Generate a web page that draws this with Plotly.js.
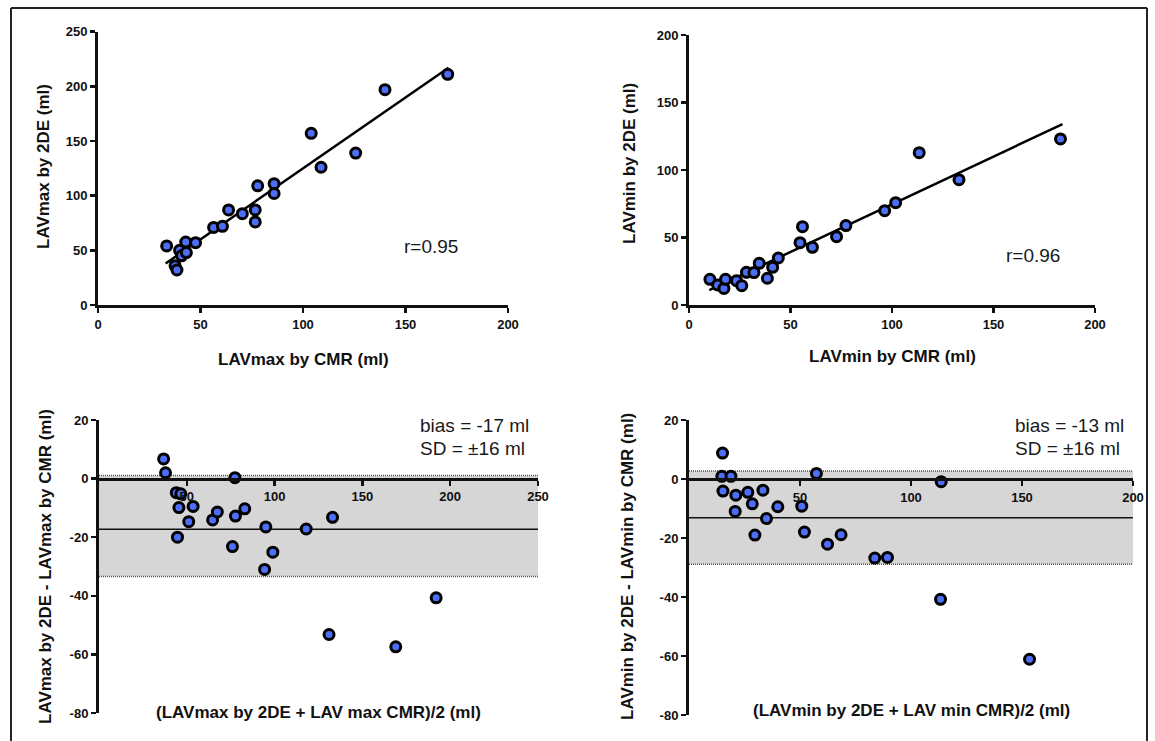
<!DOCTYPE html>
<html>
<head>
<meta charset="utf-8">
<script src="https://cdn.plot.ly/plotly-3.0.1.min.js"></script>
<style>html,body{margin:0;padding:0;background:#fff;}#chart{width:1155px;height:741px;}</style>
</head>
<body>
<div id="chart"></div>
<script>
// ---------- DATA ----------
// Top-left: LAVmax
const lavMaxCMR = [33.5, 37.6, 38.5, 39.8, 40.8, 42.8, 43.1, 47.6, 56.4, 60.7, 63.7, 70.4, 76.7, 76.7, 77.9, 85.9, 85.9, 104, 108.8, 125.7, 140, 170.6];
const lavMax2DE = [54, 36, 32, 50, 45, 57.6, 48, 57, 71, 72, 87, 83.5, 87, 76, 109, 111, 102, 157, 126, 139, 197, 211];
const lavMaxFitX = [33, 171];
const lavMaxFitY = [38, 217];
const lavMaxR = "r=0.95";

// Top-right: LAVmin
const lavMinCMR = [10.3, 14.1, 17.2, 18, 23.4, 26, 28.3, 32, 34.6, 38.6, 41.2, 44, 54.7, 55.9, 60.8, 72.7, 77.3, 96.4, 101.8, 113.4, 133, 183];
const lavMin2DE = [19, 14.8, 12.3, 19, 18, 14.3, 24.2, 24, 30.9, 19.8, 27.9, 34.8, 46.2, 58, 42.7, 50.6, 58.8, 69.9, 75.8, 112.8, 92.8, 123];
const lavMinFitX = [10, 184];
const lavMinFitY = [11, 134];
const lavMinR = "r=0.96";

// Bottom-left: Bland-Altman LAVmax
const baMaxMean = [36.8, 37.9, 44, 46.6, 45.5, 44.7, 51.1, 53.6, 64.7, 67.4, 76, 77.4, 77.7, 83, 94.3, 95, 99, 118, 133, 131, 169, 192];
const baMaxDiff = [6.7, 2.0, -4.8, -5.2, -9.9, -20, -14.7, -9.5, -14.1, -11.4, -23.2, 0.3, -12.8, -10.3, -31, -16.5, -25.1, -17.2, -13.2, -53.2, -57.4, -40.7];
const baMaxBias = -17.3;
const baMaxUpper = 1.1;
const baMaxLower = -33.4;
const baMaxText = ["bias = -17 ml", "SD = ±16 ml"];

// Bottom-right: Bland-Altman LAVmin
const baMinMean = [15.1, 14.8, 18.9, 15.3, 21.1, 20.8, 26.5, 28.5, 33.3, 29.7, 34.9, 40, 50.8, 57.4, 52, 62.4, 68.5, 83.7, 89.4, 113.6, 113.3, 153.4];
const baMinDiff = [8.8, 0.9, 0.9, -4.1, -5.5, -11, -4.5, -8.4, -3.8, -19, -13.4, -9.4, -9.2, 1.9, -18, -22.1, -18.9, -26.8, -26.6, -0.9, -40.8, -61.1];
const baMinBias = -13.1;
const baMinUpper = 2.7;
const baMinLower = -28.9;
const baMinText = ["bias = -13 ml", "SD = ±16 ml"];

// Ticks
const topMaxXTicks = [0, 50, 100, 150, 200];
const topMaxYTicks = [0, 50, 100, 150, 200, 250];
const topMinXTicks = [0, 50, 100, 150, 200];
const topMinYTicks = [0, 50, 100, 150, 200];
const baMaxXTicks = [50, 100, 150, 200, 250];
const baMinXTicks = [50, 100, 150, 200];
const baYTicks = [20, 0, -20, -40, -60, -80];
const baYTickText = ["20", "0", "-20", "-40", "-60", "-80"];

// Titles
const titles = {
  tlx: "LAVmax by CMR (ml)", tly: "LAVmax by 2DE (ml)",
  trx: "LAVmin by CMR (ml)", try_: "LAVmin by 2DE (ml)",
  blx: "(LAVmax by 2DE + LAV max CMR)/2 (ml)", bly: "LAVmax by 2DE - LAVmax by CMR (ml)",
  brx: "(LAVmin by 2DE + LAV min CMR)/2 (ml)", bry: "LAVmin by 2DE - LAVmin by CMR (ml)"
};

// ---------- LAYOUT HELPERS ----------
const W = 1155, H = 741;
const fx = px => px / W;
const fy = py => 1 - py / H;

const marker = {size: 10, color: '#4d6ef6', line: {color: '#000', width: 3}};
const fitLine = {color: '#000', width: 2.5};
const FONT = 'Liberation Sans, Arial, Helvetica, sans-serif';

function axisBase(extra) {
  return Object.assign({
    showline: true, linecolor: '#111', linewidth: 3,
    ticks: 'outside', ticklen: 5, tickwidth: 2.5, tickcolor: '#111',
    showgrid: false, zeroline: false, fixedrange: true,
    tickfont: {family: FONT, size: 13, color: '#111', weight: 'bold'}
  }, extra);
}

const blDom = [fy(713), fy(420)];
const brDom = [fy(715), fy(420)];
const blZeroPos = blDom[0] + (0 - (-80)) / 100 * (blDom[1] - blDom[0]);
const brZeroPos = brDom[0] + (0 - (-80)) / 100 * (brDom[1] - brDom[0]);

const traces = [
  {x: lavMaxFitX, y: lavMaxFitY, mode: 'lines', line: fitLine, xaxis: 'x', yaxis: 'y', hoverinfo: 'skip'},
  {x: lavMaxCMR, y: lavMax2DE, mode: 'markers', marker: marker, xaxis: 'x', yaxis: 'y'},
  {x: lavMinFitX, y: lavMinFitY, mode: 'lines', line: fitLine, xaxis: 'x2', yaxis: 'y2', hoverinfo: 'skip'},
  {x: lavMinCMR, y: lavMin2DE, mode: 'markers', marker: marker, xaxis: 'x2', yaxis: 'y2'},
  {x: baMaxMean, y: baMaxDiff, mode: 'markers', marker: marker, xaxis: 'x3', yaxis: 'y3', cliponaxis: false},
  {x: baMinMean, y: baMinDiff, mode: 'markers', marker: marker, xaxis: 'x4', yaxis: 'y4', cliponaxis: false}
];

function baShapes(xr, yr, xmax, upper, lower, bias) {
  return [
    {type: 'rect', xref: xr, yref: yr, x0: 0, x1: xmax, y0: lower, y1: upper, fillcolor: '#d6d6d6', line: {width: 0}, layer: 'below'},
    {type: 'line', xref: xr, yref: yr, x0: 0, x1: xmax, y0: upper, y1: upper, line: {color: '#555', width: 1.5, dash: '1px,1px'}, layer: 'below'},
    {type: 'line', xref: xr, yref: yr, x0: 0, x1: xmax, y0: lower, y1: lower, line: {color: '#555', width: 1.5, dash: '1px,1px'}, layer: 'below'},
    {type: 'line', xref: xr, yref: yr, x0: 0, x1: xmax, y0: bias, y1: bias, line: {color: '#111', width: 1.5}, layer: 'below'}
  ];
}

function ann(text, px, py, opts) {
  return Object.assign({
    text: text, xref: 'paper', yref: 'paper', x: fx(px), y: fy(py),
    xanchor: 'center', yanchor: 'middle', showarrow: false,
    font: {family: FONT, size: 17, color: '#111', weight: 'bold'}
  }, opts || {});
}
const txtFont = {family: FONT, size: 19, color: '#1a1a1a'};

const layout = {
  width: W, height: H,
  margin: {l: 0, r: 0, t: 0, b: 0},
  paper_bgcolor: '#fff', plot_bgcolor: 'rgba(0,0,0,0)',
  showlegend: false,
  xaxis: axisBase({domain: [fx(98), fx(508)], range: [0, 200], anchor: 'y', tickvals: topMaxXTicks}),
  yaxis: axisBase({domain: [fy(305), fy(31.7)], range: [0, 250], anchor: 'x', tickvals: topMaxYTicks}),
  xaxis2: axisBase({domain: [fx(689), fx(1095)], range: [0, 200], anchor: 'y2', tickvals: topMinXTicks}),
  yaxis2: axisBase({domain: [fy(305), fy(35)], range: [0, 200], anchor: 'x2', tickvals: topMinYTicks}),
  xaxis3: axisBase({domain: [fx(99), fx(538)], range: [0, 250], anchor: 'free', position: blZeroPos, tickvals: baMaxXTicks}),
  yaxis3: axisBase({domain: blDom, range: [-80, 20], anchor: 'x3', tickvals: baYTicks, ticktext: baYTickText}),
  xaxis4: axisBase({domain: [fx(689), fx(1133)], range: [0, 200], anchor: 'free', position: brZeroPos, tickvals: baMinXTicks}),
  yaxis4: axisBase({domain: brDom, range: [-80, 20], anchor: 'x4', tickvals: baYTicks, ticktext: baYTickText}),
  shapes: [].concat(
    baShapes('x3', 'y3', 250, baMaxUpper, baMaxLower, baMaxBias),
    baShapes('x4', 'y4', 200, baMinUpper, baMinLower, baMinBias),
    [
      {type: 'line', xref: 'paper', yref: 'paper', x0: fx(11), x1: fx(11), y0: 0, y1: fy(8), line: {color: '#222', width: 2}},
      {type: 'line', xref: 'paper', yref: 'paper', x0: fx(11), x1: fx(1147), y0: fy(8), y1: fy(8), line: {color: '#222', width: 2}},
      {type: 'line', xref: 'paper', yref: 'paper', x0: fx(1147), x1: fx(1147), y0: 0, y1: fy(8), line: {color: '#222', width: 2}}
    ]
  ),
  annotations: [
    ann(titles.tlx, 303, 359),
    ann(titles.tly, 43, 167, {textangle: -90}),
    ann(titles.trx, 892, 356),
    ann(titles.try_, 630, 164, {textangle: -90}),
    ann(titles.blx, 318, 712),
    ann(titles.bly, 45, 567, {textangle: -90}),
    ann(titles.brx, 911, 710),
    ann(titles.bry, 627, 567, {textangle: -90}),
    ann(lavMaxR, 431, 247, {font: txtFont}),
    ann(lavMinR, 1033, 255, {font: txtFont}),
    ann(baMaxText[0], 418, 425, {xanchor: 'left', font: txtFont}),
    ann(baMaxText[1], 418, 448, {xanchor: 'left', font: txtFont}),
    ann(baMinText[0], 1013, 425, {xanchor: 'left', font: txtFont}),
    ann(baMinText[1], 1013, 448, {xanchor: 'left', font: txtFont})
  ]
};

Plotly.newPlot('chart', traces, layout, {staticPlot: true, displayModeBar: false});
</script>
</body>
</html>
